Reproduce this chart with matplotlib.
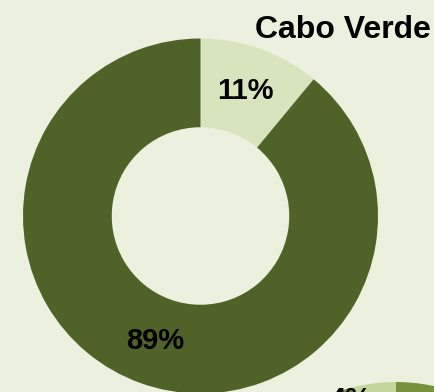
import matplotlib
matplotlib.use("Agg")
import matplotlib.pyplot as plt

# share of each part, clockwise from the top
labels = ["Part A", "Part B"]
cabo_verde = [11, 89]
cabo_colors = ["#d7e4bd", "#4f6228"]

# next country in the grid (only its top edge shows)
next_country = [96, 4]
next_colors = ["#76923c", "#c3d69b"]

bg = "#ebf1de"
font = ["Liberation Sans", "DejaVu Sans"]

fig = plt.figure(figsize=(4.35, 3.92), dpi=100, facecolor=bg)
ax = fig.add_axes([0, 0, 1, 1])
ax.set_facecolor(bg)
ax.set_xlim(0, 435)
ax.set_ylim(0, 392)
ax.set_aspect("equal")
ax.axis("off")

R = 177.5
wedges, texts, pcts = ax.pie(
    cabo_verde, colors=cabo_colors, startangle=90, counterclock=False,
    center=(200.5, 176), radius=R, autopct="%d%%", pctdistance=0.75,
    wedgeprops=dict(width=R * 0.5, linewidth=0),
    textprops=dict(fontsize=21, fontweight="bold", family=font, color="black"),
)

w2, t2, p2 = ax.pie(
    next_country, colors=next_colors, startangle=90, counterclock=False,
    center=(396, -167.5), radius=R, autopct="%d%%", pctdistance=0.75,
    wedgeprops=dict(width=R * 0.5, linewidth=0),
    textprops=dict(fontsize=21, fontweight="bold", family=font, color="black"),
)
p2[0].set_visible(False)
p2[1].set_position((351, -8))

ax.set_xlim(0, 435)
ax.set_ylim(0, 392)

ax.text(343, 362, "Cabo Verde", fontsize=23, fontweight="bold", family=font,
        ha="center", va="center")

fig.savefig("out.png", dpi=100, facecolor=bg)
